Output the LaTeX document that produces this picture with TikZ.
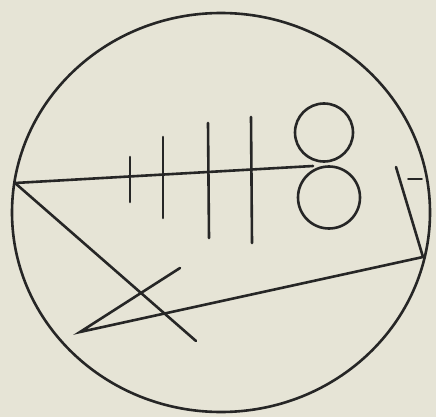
\documentclass[tikz,border=0pt]{standalone}
\begin{document}
\begin{tikzpicture}[x=1pt,y=-1pt,
  ink/.style={draw=black!85, line width=2.6pt, line cap=round, line join=miter}]
\fill[color={rgb,255:red,230;green,228;blue,214}] (0,0) rectangle (436,417);
\useasboundingbox (0,0) rectangle (436,417);
% outer circle
\draw[ink] (221,212.5) ellipse [x radius=209, y radius=199.5];
% coordinates
\coordinate (L) at (15,183);
\coordinate (E) at (313,166);
\coordinate (D) at (196,341);
\coordinate (XT) at (180,268);
\coordinate (A) at (80,332);
\coordinate (R) at (423,257);
\coordinate (U) at (396,167);
\coordinate (m1) at (408,179);
\coordinate (m2) at (422,179);
% main lines
\draw[ink] (L) -- (E);
\draw[ink] (L) -- (D);
\draw[ink] (XT) -- (A) -- (R) -- (U);
\draw[ink, line width=1.8pt] (m1) -- (m2);
% ticks
\coordinate (t1a) at (130,157); \coordinate (t1b) at (130,202);
\coordinate (t2a) at (163,137); \coordinate (t2b) at (163,218);
\coordinate (t3a) at (208,123); \coordinate (t3b) at (209,238);
\coordinate (t4a) at (251,117); \coordinate (t4b) at (252,243);
\draw[ink] (t1a) -- (t1b);
\draw[ink] (t2a) -- (t2b);
\draw[ink] (t3a) -- (t3b);
\draw[ink] (t4a) -- (t4b);
% circles
\node[ink, circle, minimum size=58pt, inner sep=0pt] (c1) at (324,132.5) {};
\node[ink, circle, minimum size=62pt, inner sep=0pt] (c2) at (329,197.5) {};
\end{tikzpicture}
\end{document}
